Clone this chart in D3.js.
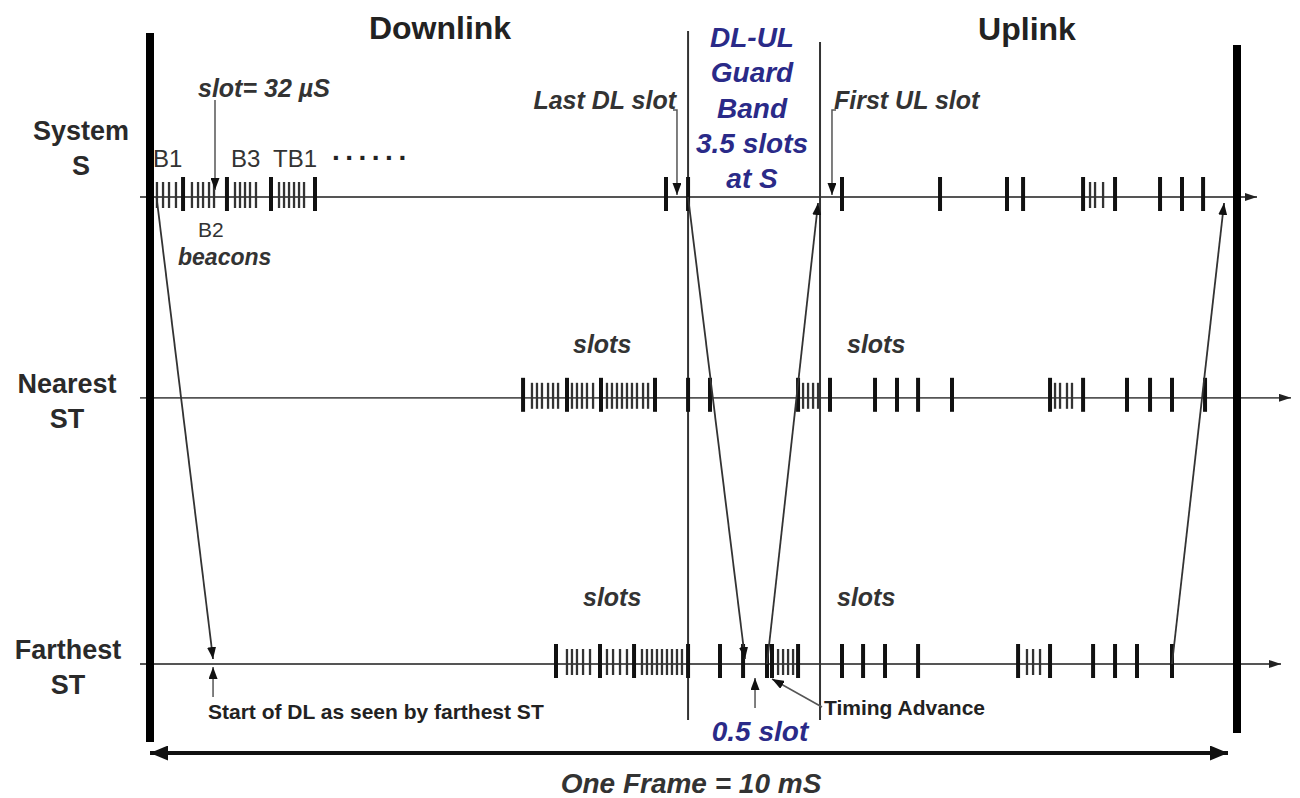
<!DOCTYPE html>
<html>
<head>
<meta charset="utf-8">
<script src="https://cdn.jsdelivr.net/npm/d3@7"></script>
<style>
  html, body { margin: 0; padding: 0; background: #fff; }
  svg { display: block; font-family: "Liberation Sans", Arial, sans-serif; }
</style>
</head>
<body>
<div id="vis"></div>
<script>
// Frame dimensions
const FRAME_WIDTH = 1300;
const FRAME_HEIGHT = 798;

// ---- data (times in microseconds inside one 10 ms frame) ----
const FRAME_US = 10000;
const ROW_NAMES = ["System S", "Nearest ST", "Farthest ST"];
const ROW_LABELS = [["System", "S"], ["Nearest", "ST"], ["Farthest", "ST"]];
const ROW_DIST = [0, 0.43, 1];          // relative distance from the system
const GUARD_US = [4950, 6164];          // DL-UL guard band edges at S

// slot starts (heavy marks) and sub-slots (light marks) per row
const SYS_MAJOR = [304, 708, 1113, 1518, 4747, 4950, 6366, 7268, 7884, 8032, 8584, 8878, 9292, 9494, 9688];
const SYS_MINOR = [64, 120, 175, 239, 386, 442, 488, 543, 589, 782, 828, 874, 920, 975,
                   1187, 1233, 1279, 1325, 1371, 1417, 8648, 8694, 8768];

const NEAR_MAJOR = [3432, 3836, 4149, 4646, 4950, 5152, 5962, 6256, 6670, 6872, 7066, 7378,
                    8280, 8584, 8988, 9200, 9402, 9706];
const NEAR_MINOR = [3514, 3560, 3606, 3662, 3708, 3754, 3882, 3928, 3974, 4020, 4076,
                    4204, 4250, 4296, 4342, 4388, 4434, 4480, 4536, 4582,
                    6008, 6054, 6100, 6146, 8326, 8372, 8436, 8482];

const FAR_MAJOR = [3735, 4140, 4453, 4950, 5244, 5456, 5676, 5722, 5962, 6366, 6560, 6762, 7066,
                   7986, 8280, 8676, 8878, 9080, 9402];
const FAR_MINOR = [3836, 3882, 3928, 3984, 4048, 4204, 4260, 4324, 4388,
                   4526, 4572, 4618, 4664, 4710, 4756, 4802, 4848, 4894,
                   5778, 5824, 5870, 5916, 8068, 8124, 8188];

const MAJOR = [SYS_MAJOR, NEAR_MAJOR, FAR_MAJOR];
const MINOR = [SYS_MINOR, NEAR_MINOR, FAR_MINOR];

// propagation paths: [row, time] -> [row, time]
const PATHS = [
  { from: [0, 60],   to: [2, 580] },
  { from: [0, 4950], to: [2, 5474] },
  { from: [2, 5676], to: [0, 6146] },
  { from: [2, 9402], to: [0, 9881] }
];

const BEACON_LABELS = ["B1", "B2", "B3", "TB1"];
const GUARD_TEXT = ["DL-UL", "Guard", "Band", "3.5 slots", "at S"];

// ---- layout ----
const BLUE = "#2a2a88";
const INK = "#2b2b2b";
const ROW_AXIS_START = 140;
const ROW_AXIS_END = [1257, 1291, 1281];
const ROW_LABEL_X = [81, 67, 68];
const ROW_LABEL_Y = [[140, 175], [393, 428], [659, 694]];

const X_SCALE = d3.scaleLinear().domain([0, FRAME_US]).range([150, 1237]);
const Y_SCALE = d3.scaleLinear().domain([0, 1]).range([197, 664]);
const rowY = (r) => Y_SCALE(ROW_DIST[r]);

const FRAME = d3.select("#vis")
                .append("svg")
                .attr("width", FRAME_WIDTH)
                .attr("height", FRAME_HEIGHT);

// arrow markers
const defs = FRAME.append("defs");
function addMarker(id, w, h, color) {
  defs.append("marker")
      .attr("id", id)
      .attr("viewBox", "0 0 " + w + " " + h)
      .attr("refX", w).attr("refY", h / 2)
      .attr("markerWidth", w).attr("markerHeight", h)
      .attr("markerUnits", "userSpaceOnUse")
      .attr("orient", "auto-start-reverse")
    .append("path")
      .attr("d", "M0,0L" + w + "," + (h / 2) + "L0," + h + "Z")
      .attr("fill", color);
}
addMarker("arr", 12, 9, "#111");
addMarker("axisArr", 12, 8, "#222");
addMarker("big", 18, 15, "#111");

// row time axes
FRAME.append("g").selectAll("line")
     .data(ROW_NAMES)
     .enter()
     .append("line")
       .attr("x1", ROW_AXIS_START)
       .attr("x2", (d, i) => ROW_AXIS_END[i])
       .attr("y1", (d, i) => rowY(i))
       .attr("y2", (d, i) => rowY(i))
       .attr("stroke", "#555")
       .attr("stroke-width", 1.8)
       .attr("marker-end", "url(#axisArr)");

// frame boundaries (thick bars)
FRAME.append("rect").attr("x", X_SCALE(0) - 4).attr("y", 33)
     .attr("width", 8).attr("height", 709).attr("fill", "#000");
FRAME.append("rect").attr("x", X_SCALE(FRAME_US) - 4).attr("y", 45)
     .attr("width", 8).attr("height", 688).attr("fill", "#000");

// guard band edges
FRAME.append("g").selectAll("line")
     .data(GUARD_US)
     .enter()
     .append("line")
       .attr("x1", (d) => X_SCALE(d)).attr("x2", (d) => X_SCALE(d))
       .attr("y1", (d, i) => i === 0 ? 31 : 42)
       .attr("y2", 720)
       .attr("stroke", "#333")
       .attr("stroke-width", 2);

// slot marks
ROW_NAMES.forEach((name, r) => {
  const y = rowY(r);
  FRAME.append("g").selectAll("line")
       .data(MINOR[r])
       .enter()
       .append("line")
         .attr("x1", (d) => X_SCALE(d)).attr("x2", (d) => X_SCALE(d))
         .attr("y1", y - 15).attr("y2", y + 11)
         .attr("stroke", "#333")
         .attr("stroke-width", 2.3);
  FRAME.append("g").selectAll("line")
       .data(MAJOR[r])
       .enter()
       .append("line")
         .attr("x1", (d) => X_SCALE(d)).attr("x2", (d) => X_SCALE(d))
         .attr("y1", y - 20).attr("y2", y + 14)
         .attr("stroke", "#111")
         .attr("stroke-width", 4);
});

// propagation arrows
FRAME.append("g").selectAll("line")
     .data(PATHS)
     .enter()
     .append("line")
       .attr("x1", (d) => X_SCALE(d.from[1]))
       .attr("y1", (d) => rowY(d.from[0]))
       .attr("x2", (d) => X_SCALE(d.to[1]))
       .attr("y2", (d) => rowY(d.to[0]) + (d.to[0] === 0 ? 6 : -5))
       .attr("stroke", "#333")
       .attr("stroke-width", 1.8)
       .attr("marker-end", "url(#arr)");

// frame length arrow
FRAME.append("line")
     .attr("x1", X_SCALE(0)).attr("x2", X_SCALE(FRAME_US) - 9)
     .attr("y1", 753).attr("y2", 753)
     .attr("stroke", "#111").attr("stroke-width", 4)
     .attr("marker-start", "url(#big)")
     .attr("marker-end", "url(#big)");

// leader lines
const leader = (d, end) => FRAME.append("path")
     .attr("d", d).attr("fill", "none")
     .attr("stroke", "#555").attr("stroke-width", 1.5)
     .attr("marker-end", end ? "url(#arr)" : null);
leader("M" + X_SCALE(598) + ",100V190", true);
leader("M673,110H" + X_SCALE(4848) + "V195", true);
leader("M836,110H" + X_SCALE(6274) + "V195", true);
leader("M" + X_SCALE(580) + ",697V667", true);
leader("M" + X_SCALE(5566) + ",708V678", true);
leader("M822,707L" + (X_SCALE(5704) + 2) + ",679", true);

// ---- text ----
function addText(str, x, y, opts) {
  const o = Object.assign({ size: 24, weight: "normal", style: "normal", fill: INK, anchor: "start" }, opts);
  return FRAME.append("text")
       .attr("x", x).attr("y", y)
       .attr("font-size", o.size + "px")
       .attr("font-weight", o.weight)
       .attr("font-style", o.style)
       .attr("text-anchor", o.anchor)
       .attr("fill", o.fill)
       .text(str);
}
const BI = { weight: "bold", style: "italic", size: 25, fill: "#333" };

addText("Downlink", 440, 39, { size: 32, weight: "bold", anchor: "middle", fill: "#222" });
addText("Uplink", 1027, 40, { size: 32, weight: "bold", anchor: "middle", fill: "#222" });

// row labels
ROW_LABELS.forEach((lines, r) => {
  lines.forEach((s, k) => addText(s, ROW_LABEL_X[r], ROW_LABEL_Y[r][k],
    { size: 27, weight: "bold", anchor: "middle", fill: "#2a2a2a" }));
});

// guard band caption
GUARD_TEXT.forEach((s, k) => addText(s, 752, 47 + k * 35.3,
  { size: 28, weight: "bold", style: "italic", anchor: "middle", fill: BLUE }));

addText("Last DL slot", 676, 109, Object.assign({}, BI, { anchor: "end" }));
addText("First UL slot", 834, 109, BI);
addText("slot= 32 \u00b5S", 198, 97, BI);

// beacon labels
addText(BEACON_LABELS[0], 153, 167, { fill: "#333" });
addText(BEACON_LABELS[2], 231, 167, { fill: "#333" });
addText(BEACON_LABELS[3], 273, 167, { fill: "#333" });
addText(BEACON_LABELS[1], 198, 237, { size: 21, fill: "#333" });
addText("......", 332, 160, { size: 28, weight: "bold", fill: "#222" }).attr("letter-spacing", "5.5px");
addText("beacons", 178, 265, Object.assign({}, BI, { size: 23 }));

addText("slots", 573, 353, BI);
addText("slots", 847, 353, BI);
addText("slots", 583, 606, BI);
addText("slots", 837, 606, BI);

addText("Start of DL as seen by farthest ST", 208, 719, { size: 21, weight: "bold", fill: "#222" });
addText("Timing Advance", 824, 715, { size: 21, weight: "bold", fill: "#222" });
addText("0.5 slot", 760, 741, { size: 28, weight: "bold", style: "italic", anchor: "middle", fill: BLUE });
addText("One Frame = 10 mS", 691, 793, { size: 28, weight: "bold", style: "italic", anchor: "middle", fill: "#333" });
</script>
</body>
</html>
